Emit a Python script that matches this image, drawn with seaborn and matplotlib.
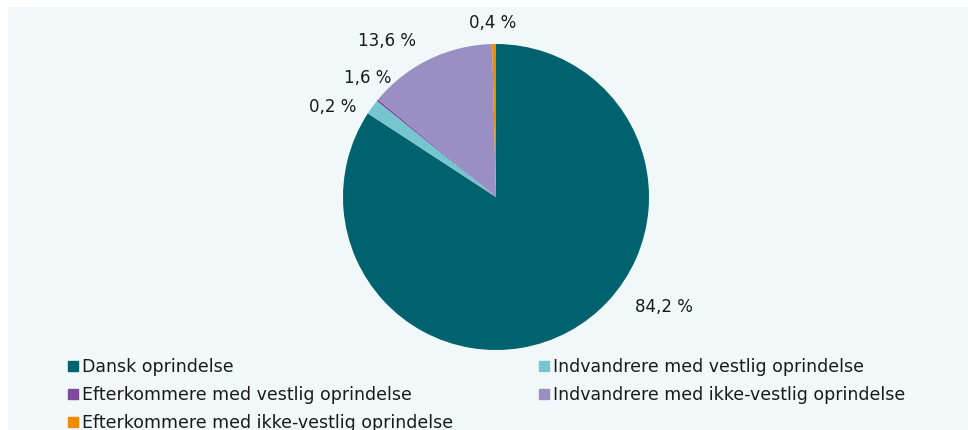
import matplotlib
matplotlib.use("Agg")
import matplotlib.pyplot as plt
from matplotlib.patches import Rectangle
from matplotlib.lines import Line2D
import seaborn as sns

# Population by origin (percent)
categories = [
    "Dansk oprindelse",
    "Indvandrere med vestlig oprindelse",
    "Efterkommere med vestlig oprindelse",
    "Indvandrere med ikke-vestlig oprindelse",
    "Efterkommere med ikke-vestlig oprindelse",
]
shares = [84.2, 1.6, 0.2, 13.6, 0.4]
value_labels = ["84,2 %", "1,6 %", "0,2 %", "13,6 %", "0,4 %"]
colors = ["#00626E", "#76C6D1", "#7F4A9E", "#998FC2", "#F08A00"]

# Label placement in pie-radius units (outside the wedges)
label_pos = [(1.10, -0.72), (-0.84, 0.78), (-1.07, 0.59), (-0.71, 1.02), (-0.02, 1.14)]

sns.set_theme(style="white")
plt.rcParams["font.family"] = ["DejaVu Sans"]

W, H = 968, 430
fig = plt.figure(figsize=(W / 100, H / 100), dpi=100)
fig.patch.set_facecolor("white")
bg = "#F1F8FA"
fig.patches.append(Rectangle((8 / W, 0), 1 - 8 / W, 1 - 7 / H, transform=fig.transFigure,
                             facecolor=bg, edgecolor="none", zorder=-10))

cx, cy, r = 496, 197, 153
ax = fig.add_axes([(cx - r) / W, (H - cy - r) / H, 2 * r / W, 2 * r / H], zorder=2)
ax.set_facecolor("none")
wedges, _ = ax.pie(shares, colors=colors, startangle=90, counterclock=False,
                   wedgeprops=dict(linewidth=0))
ax.set_xlim(-1, 1)
ax.set_ylim(-1, 1)
ax.set_aspect("equal")
ax.axis("off")

for txt, (x, y) in zip(value_labels, label_pos):
    ax.text(x, y, txt, ha="center", va="center", fontsize=12, color="#1a1a1a", clip_on=False)

handles = [Line2D([0], [0], marker="s", linestyle="none", markersize=7,
                  markerfacecolor=c, markeredgecolor=c) for c in colors]
order = [0, 2, 4, 1, 3]
leg = fig.legend([handles[i] for i in order], [categories[i] for i in order],
                 ncol=2, loc="upper left", bbox_to_anchor=(66 / W, 1 - 358 / H),
                 frameon=False, fontsize=12.5, handletextpad=0.1, handlelength=0.8,
                 columnspacing=4.85, labelspacing=0.57, borderaxespad=0, borderpad=0)
for t in leg.get_texts():
    t.set_color("#1a1a1a")

fig.savefig("out.png", dpi=100)
